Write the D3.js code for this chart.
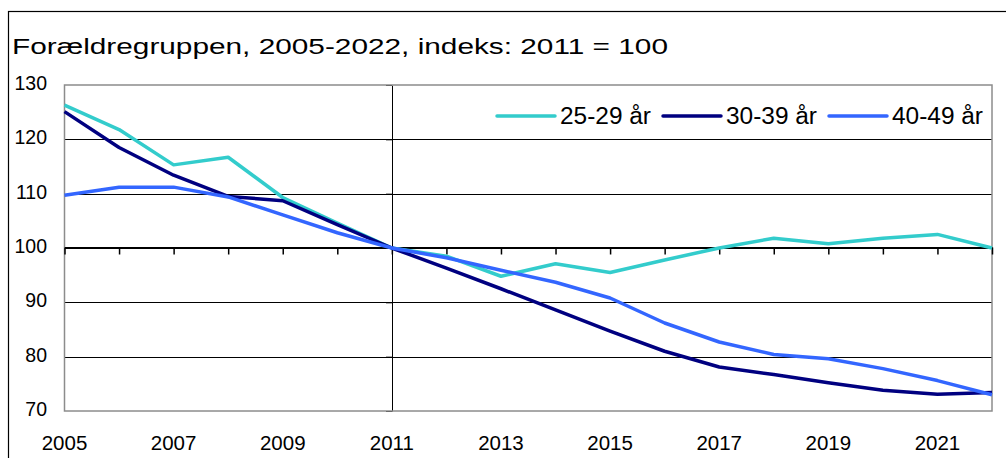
<!DOCTYPE html>
<html>
<head>
<meta charset="utf-8">
<script src="https://cdn.jsdelivr.net/npm/d3@7"></script>
<style>
body { margin: 0; background: #fff; }
text { font-family: "Liberation Sans", Arial, sans-serif; fill: #000; }
</style>
</head>
<body>
<div id="chart"></div>
<script>
var years = d3.range(2005, 2023);
var age2529 = [126.3, 121.8, 115.3, 116.7, 109.3, 104.6, 100, 98.5, 94.8, 97.1, 95.5, 97.8, 100, 101.8, 100.8, 101.8, 102.5, 100];
var age3039 = [125.1, 118.5, 113.4, 109.5, 108.7, 104.3, 100, 96.3, 92.5, 88.6, 84.7, 81.0, 78.1, 76.7, 75.2, 73.8, 73.1, 73.4];
var age4049 = [109.7, 111.2, 111.2, 109.4, 106.1, 102.8, 100, 98.2, 95.9, 93.7, 90.8, 86.2, 82.7, 80.4, 79.6, 77.8, 75.6, 73.0];
var seriesNames = ["25-29 år", "30-39 år", "40-49 år"];
var colors = ["#33CCCC", "#000080", "#3366FF"];
var yTicks = [70, 80, 90, 100, 110, 120, 130];
var xLabels = [2005, 2007, 2009, 2011, 2013, 2015, 2017, 2019, 2021];
var title = "Forældregruppen, 2005-2022, indeks: 2011 = 100";

function draw() {
var width = 1006, height = 458;
var pLeft = 64.5, pRight = 992, pTop = 85, pBottom = 411;

var svg = d3.select("#chart").append("svg")
	.attr("width", width)
	.attr("height", height);

// outer frame, runs off the right and bottom edge
svg.append("rect")
	.attr("x", 8.5).attr("y", 11.5)
	.attr("width", 1100).attr("height", 600)
	.attr("fill", "#fff")
	.attr("stroke", "#000")
	.attr("stroke-width", 1.2);

svg.append("text")
	.attr("x", 12)
	.attr("y", 54)
	.attr("textLength", 656)
	.attr("lengthAdjust", "spacingAndGlyphs")
	.style("font-size", "22px")
	.text(title);

var x = d3.scaleLinear().domain([2005, 2022]).range([pLeft, pRight]);
var y = d3.scaleLinear().domain([70, 130]).range([pBottom, pTop]);

// gridlines
svg.append("g").selectAll("line")
	.data(yTicks.filter(function(d) { return d != 70 && d != 130 && d != 100; }))
	.enter().append("line")
	.attr("x1", pLeft).attr("x2", pRight)
	.attr("y1", function(d) { return Math.round(y(d)) + 0.5; })
	.attr("y2", function(d) { return Math.round(y(d)) + 0.5; })
	.attr("stroke", "#000")
	.attr("stroke-width", 1);

// vertical axis at 2011 with small ticks (d3 adds the half pixel)
var x11 = Math.round(x(2011));
var vAxis = d3.axisLeft(y).tickValues(yTicks).tickSize(6).tickSizeOuter(0).tickFormat("");
svg.append("g")
	.attr("transform", "translate(" + x11 + ",0)")
	.call(vAxis)
	.call(function(g) {
		g.selectAll("line, path").attr("stroke", "#000").attr("stroke-width", 1);
	});

// plot border
svg.append("rect")
	.attr("x", pLeft).attr("y", pTop)
	.attr("width", pRight - pLeft).attr("height", pBottom - pTop)
	.attr("fill", "none")
	.attr("stroke", "#8c8c8c")
	.attr("stroke-width", 1.5);

// 100 line with year ticks
var xAxis = d3.axisBottom(x).tickValues(years).tickSize(7).tickFormat("").tickSizeOuter(0);
svg.append("g")
	.attr("transform", "translate(0," + (Math.round(y(100)) - 0.5) + ")")
	.call(xAxis)
	.call(function(g) {
		g.select(".domain").attr("stroke", "#000").attr("stroke-width", 2);
		g.selectAll(".tick line").attr("stroke", "#000").attr("stroke-width", 1.5);
	});

// y labels
svg.append("g").selectAll("text")
	.data(yTicks)
	.enter().append("text")
	.attr("x", 47)
	.attr("y", function(d) { return y(d) + 5; })
	.attr("text-anchor", "end")
	.style("font-size", "19.5px")
	.text(function(d) { return d; });

// x labels
svg.append("g").selectAll("text")
	.data(xLabels)
	.enter().append("text")
	.attr("x", function(d) { return x(d); })
	.attr("y", 450)
	.attr("text-anchor", "middle")
	.style("font-size", "20.5px")
	.text(function(d) { return d; });

var allSeries = [age2529, age3039, age4049];
var line = d3.line()
	.x(function(d, i) { return x(years[i]); })
	.y(function(d) { return y(d); });

svg.append("g").selectAll("path")
	.data(allSeries)
	.enter().append("path")
	.attr("d", line)
	.attr("fill", "none")
	.attr("stroke", function(d, i) { return colors[i]; })
	.attr("stroke-width", 3.5)
	.attr("stroke-linejoin", "round");

// legend
var legendX = [497, 663, 829];
var legend = svg.append("g").selectAll("g")
	.data(seriesNames)
	.enter().append("g")
	.attr("transform", function(d, i) { return "translate(" + legendX[i] + ",116)"; });

legend.append("line")
	.attr("x1", 0).attr("x2", 58)
	.attr("stroke", function(d, i) { return colors[i]; })
	.attr("stroke-width", 3.5)
	.attr("stroke-linecap", "round");

legend.append("text")
	.attr("x", 63)
	.attr("y", 8)
	.attr("textLength", 91)
	.attr("lengthAdjust", "spacingAndGlyphs")
	.style("font-size", "23px")
	.text(function(d) { return d; });
}

draw();
</script>
</body>
</html>
